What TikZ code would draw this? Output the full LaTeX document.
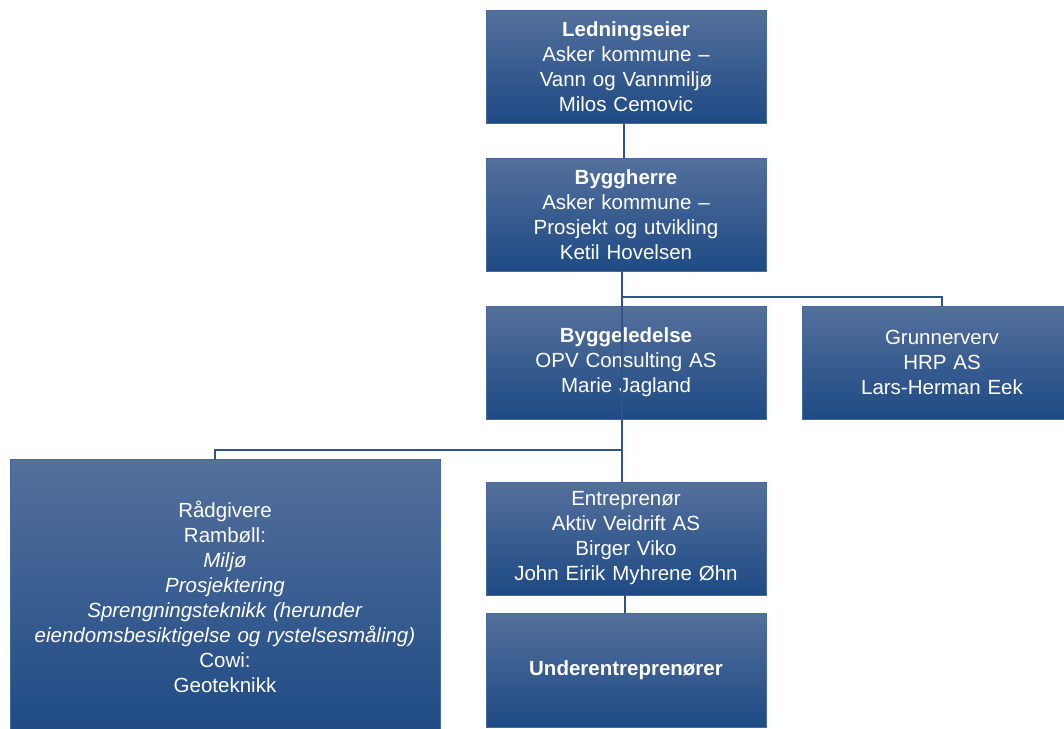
\documentclass[tikz,border=0pt]{standalone}
\usepackage{fontspec}
\setmainfont{Liberation Sans}
\definecolor{boxtop}{RGB}{84,112,156}
\definecolor{boxbot}{RGB}{30,74,132}
\definecolor{boxedge}{RGB}{70,104,155}
\definecolor{linkc}{RGB}{45,85,140}
\begin{document}
\begin{tikzpicture}[x=1pt,y=-1pt,
  orgbox/.style={rectangle, top color=boxtop, bottom color=boxbot, draw=boxedge, line width=0.8pt,
    text=white, align=center, inner sep=0pt, minimum width=280pt, minimum height=113pt,
    text width=270pt, font={\fontsize{20.5}{25}\selectfont}},
  link/.style={draw=linkc, line width=1.1pt}]
\useasboundingbox (0,0) rectangle (1064,728);
\clip (0,0) rectangle (1064,728);
\fill[white] (0,0) rectangle (1064,728);
\node[orgbox] (led) at (626,66.5) {\textbf{Ledningseier}\\Asker kommune --\\Vann og Vannmiljø\\Milos Cemovic};
\node[orgbox] (bh) at (626,214.5) {\textbf{Byggherre}\\Asker kommune --\\Prosjekt og utvikling\\Ketil Hovelsen};
\node[orgbox] (bl) at (626,362.5) {\textbf{Byggeledelse}\\OPV Consulting AS\\Marie Jagland};
\node[orgbox] (gr) at (942,362.5) {Grunnerverv\\HRP AS\\Lars-Herman Eek};
\node[orgbox, minimum width=430pt, minimum height=276pt, text width=425pt] (rad) at (225,597)
  {Rådgivere\\Rambøll:\\\textit{Miljø}\\\textit{Prosjektering}\\\textit{Sprengningsteknikk (herunder}\\\textit{eiendomsbesiktigelse og rystelsesmåling)}\\Cowi:\\Geoteknikk};
\node[orgbox] (ent) at (626,538.5) {Entreprenør\\Aktiv Veidrift AS\\Birger Viko\\John Eirik Myhrene Øhn};
\node[orgbox, minimum height=114pt] (und) at (626,670) {\textbf{Underentreprenører}};
% connectors
\coordinate (busA) at (622,297);
\coordinate (busB) at (622,450);
\draw[link] (led.south -| 624,0) -- (bh.north -| 624,0);
\draw[link] (bh.south -| busA) -- (busB);
\draw[link] (busA) -| (gr.north);
\draw[link] (busB) -| (rad.north -| 215,0);
\draw[link] (busB) -- (ent.north -| busB);
\draw[link] (ent.south -| 625,0) -- (und.north -| 625,0);
\end{tikzpicture}
\end{document}
